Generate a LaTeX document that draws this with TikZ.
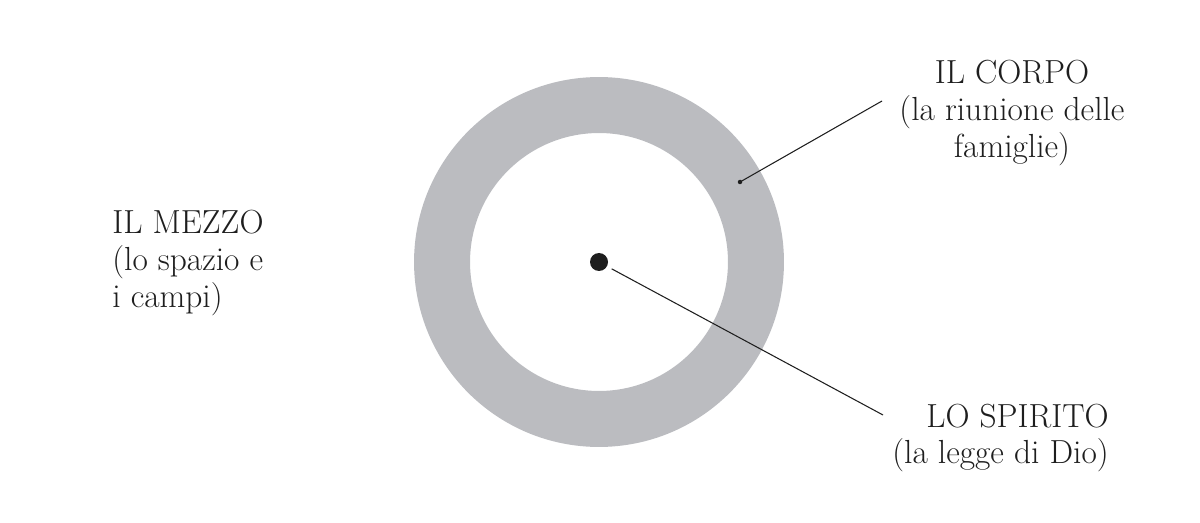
\documentclass[tikz,border=0pt]{standalone}
\usepackage{tikz}
\usetikzlibrary{positioning}
\definecolor{ringgray}{HTML}{BBBCC0}
\definecolor{inkblack}{HTML}{1E1E1E}
\tikzset{label text/.style={inner sep=0pt,font=\fontsize{19}{21}\selectfont,text=inkblack}}
\begin{document}
\begin{tikzpicture}[x=0.02cm,y=-0.02cm]
\useasboundingbox (0,0) rectangle (1200,523);
%
{
\fill[ringgray,even odd rule] (599,262) circle[radius=3.7cm] circle[radius=2.58cm];
\node (spirit) [circle,fill=inkblack,inner sep=0pt,minimum size=0.36cm] at (599,262) {};
\node (bodydot) [circle,fill=inkblack,inner sep=0pt,minimum size=0.09cm] at (740,182) {};
}
%
{
\node (mezzo) [label text,align=left,anchor=west] at (112,263) {IL MEZZO\\(lo spazio e\\i campi)};
\node (corpo) [label text,align=center] at (1012,113) {IL CORPO\\(la riunione delle\\famiglie)};
\node (spirito) [label text,align=right,anchor=east] at (1109,438) {LO SPIRITO\\(la legge di Dio)};
}
%
{
\coordinate (corpoend) at (882,101);
\coordinate (spiritoend) at (883,415);
\path[line width=0.6pt,draw=inkblack](bodydot.center) edge (corpoend);
\path[line width=0.6pt,draw=inkblack,shorten <=0.1cm](spirit) edge (spiritoend);
}
\end{tikzpicture}
\end{document}
